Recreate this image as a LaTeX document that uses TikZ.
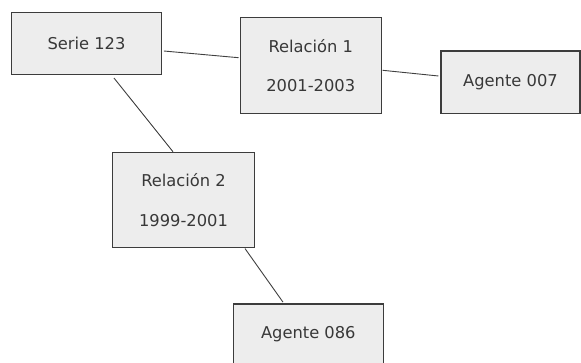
\documentclass[tikz,border=0pt]{standalone}
\usepackage{fontspec}
\setmainfont{DejaVu Sans}
\usetikzlibrary{calc}
\definecolor{boxfill}{HTML}{EDEDED}
\definecolor{boxline}{HTML}{3C3C3C}
\definecolor{txt}{HTML}{383838}
\definecolor{edge}{HTML}{404040}
\begin{document}
\begin{tikzpicture}[x=1pt,y=-1pt,
  box/.style={draw=boxline,fill=boxfill,line width=1.1pt,inner sep=0pt,
    text=txt,align=center,font=\fontsize{16.3}{39.7}\selectfont},
  link/.style={draw=edge,line width=0.9pt}]
\useasboundingbox (0,0) rectangle (581,363);
\fill[white] (0,0) rectangle (581,363);
\node[box,minimum width=150.5pt,minimum height=62pt] (serie) at (86.5,43.3) {Serie 123};
\node[box,minimum width=141.5pt,minimum height=95.6pt] (rel1) at (310.8,65.5) {Relación 1\\2001-2003};
\node[box,minimum width=139pt,minimum height=62.3pt] (ag7) at (510.5,82.2) {Agente 007};
\node[box,minimum width=141.6pt,minimum height=95.4pt] (rel2) at (183.5,200) {Relación 2\\1999-2001};
\node[box,minimum width=150pt,minimum height=61pt] (ag86) at (308.3,334.5) {Agente 086};
\draw[link] ($(serie.east)+(1.5,7.7)$) -- ($(rel1.west)+(-1,-7.8)$);
\draw[link] ($(rel1.east)+(0.5,4.8)$) -- ($(ag7.west)+(-2,-6.2)$);
\draw[link] ($(serie.south)+(27.5,3.2)$) -- ($(rel2.north)+(-10.5,0)$);
\draw[link] ($(rel2.south)+(61.5,0.3)$) -- ($(ag86.north)+(-25.3,-1.3)$);
\end{tikzpicture}
\end{document}
